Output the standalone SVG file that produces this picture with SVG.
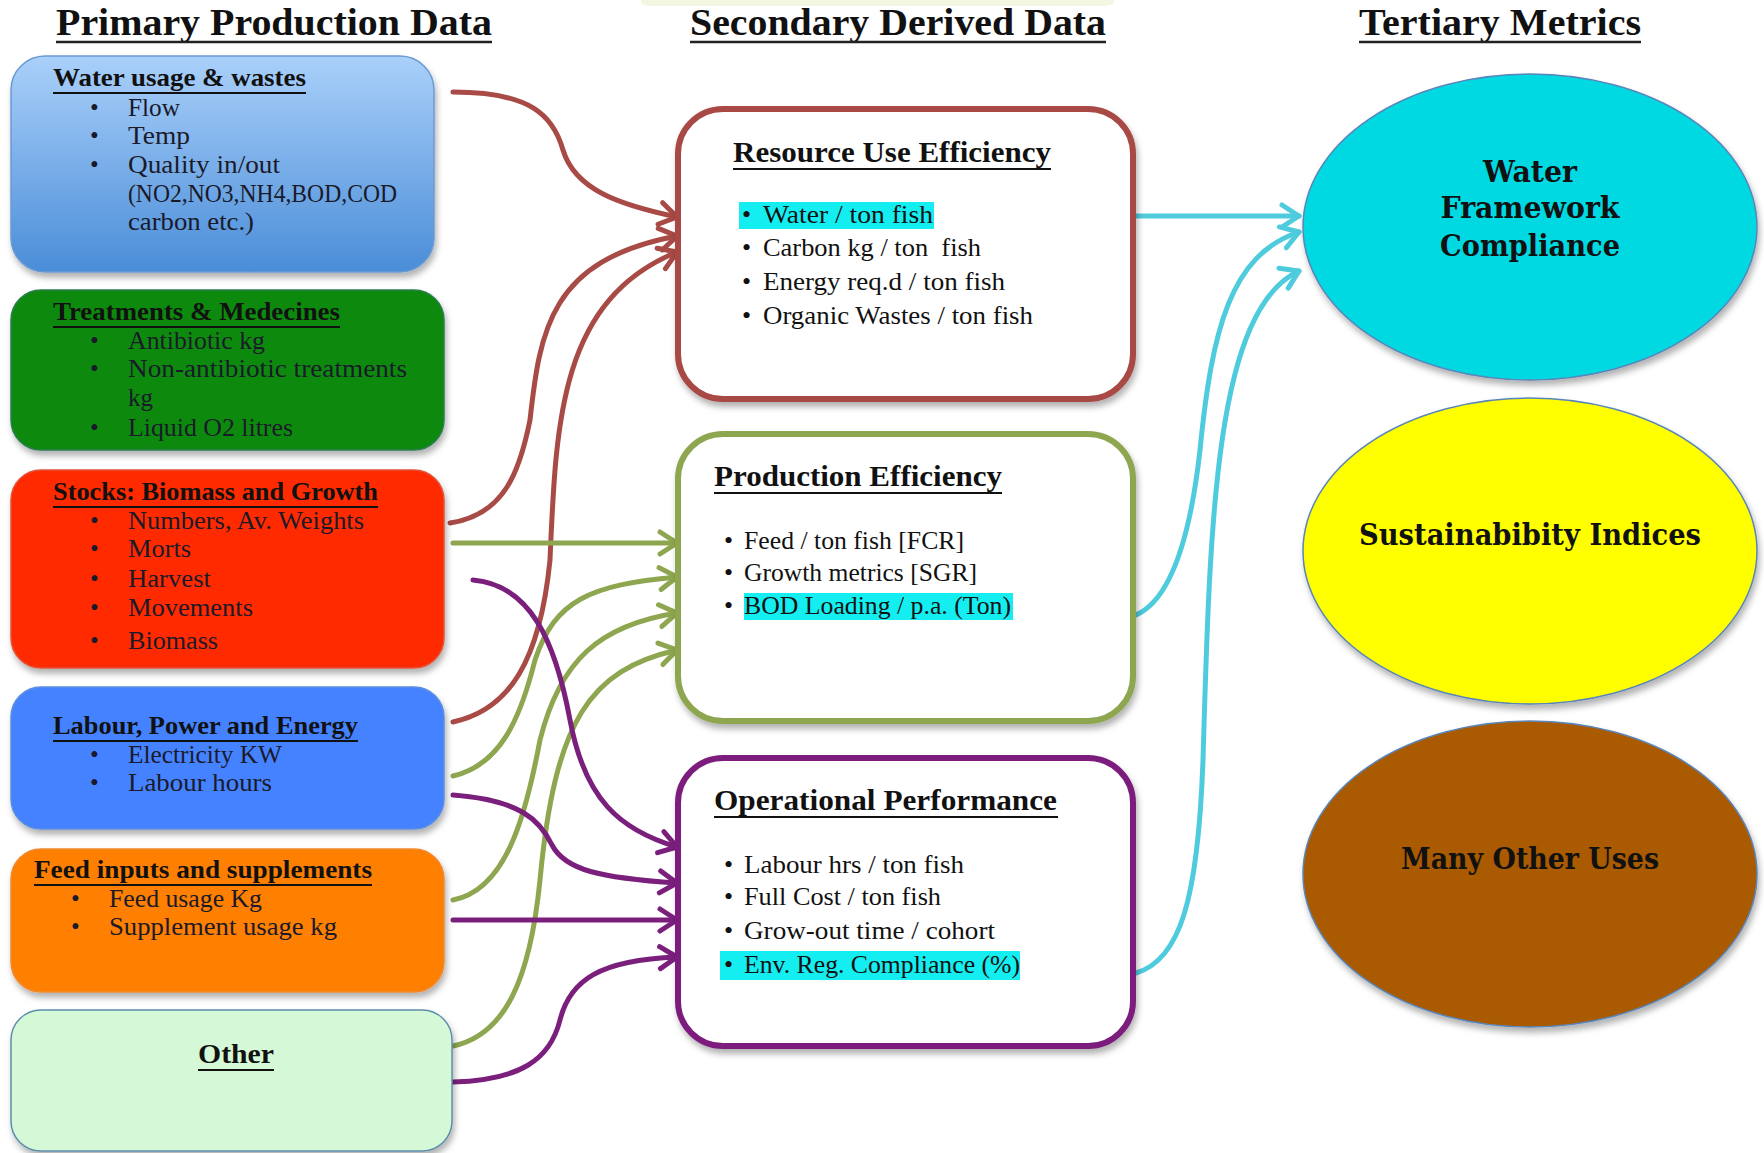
<svg xmlns="http://www.w3.org/2000/svg" width="1764" height="1153" viewBox="0 0 1764 1153">
  <defs>
    <style>
      .title { font-family: "Liberation Serif", serif; font-weight: bold; font-size: 37px; fill: #111; }
      .lh { font-family: "Liberation Serif", serif; font-weight: bold; font-size: 25px; fill: #111; }
      .lb { font-family: "Liberation Serif", serif; font-size: 25px; fill: #1a1a2a; }
      .mh { font-family: "Liberation Serif", serif; font-weight: bold; font-size: 30px; fill: #111; }
      .mb { font-family: "Liberation Serif", serif; font-size: 26px; fill: #111; }
      .eh { font-family: "DejaVu Serif", "Liberation Serif", serif; font-weight: bold; font-size: 29px; fill: #111; text-anchor: middle; }
      .ul { stroke: #111; stroke-width: 2.2; }
      .ult { stroke: #222; stroke-width: 2.6; }
      .mbox { fill: #fff; stroke-width: 6; filter: url(#shadow); }
      .lbox { filter: url(#shadow); stroke-width: 1.5; }
      .ell { stroke: #5a85b8; stroke-width: 1.5; filter: url(#shadow); }
      .hl { fill: #14eef0; }
      .conn { fill: none; stroke-width: 5; stroke-linecap: round; }
      .red { stroke: #a84a45; marker-end: url(#ah-red); }
      .grn { stroke: #8ea64f; marker-end: url(#ah-grn); }
      .pur { stroke: #7b1f7d; marker-end: url(#ah-pur); }
      .cyn { stroke: #4ecbdd; marker-end: url(#ah-cyn); }
    </style>
    <filter id="shadow" x="-10%" y="-10%" width="125%" height="130%">
      <feDropShadow dx="2" dy="5" stdDeviation="3" flood-color="#000" flood-opacity="0.3"/>
    </filter>
    <linearGradient id="gWater" x1="0" y1="0" x2="0" y2="1">
      <stop offset="0" stop-color="#aad0fa"/>
      <stop offset="1" stop-color="#4a8dd8"/>
    </linearGradient>
    <marker id="ah-red" markerUnits="userSpaceOnUse" viewBox="-22 -15 26 30" refX="0" refY="0" markerWidth="26" markerHeight="30" orient="auto">
      <path d="M-17,-11 L0,0 L-17,11" fill="none" stroke="#a84a45" stroke-width="5" stroke-linecap="round" stroke-linejoin="round"/>
    </marker>
    <marker id="ah-grn" markerUnits="userSpaceOnUse" viewBox="-22 -15 26 30" refX="0" refY="0" markerWidth="26" markerHeight="30" orient="auto">
      <path d="M-17,-11 L0,0 L-17,11" fill="none" stroke="#8ea64f" stroke-width="5" stroke-linecap="round" stroke-linejoin="round"/>
    </marker>
    <marker id="ah-pur" markerUnits="userSpaceOnUse" viewBox="-22 -15 26 30" refX="0" refY="0" markerWidth="26" markerHeight="30" orient="auto">
      <path d="M-17,-11 L0,0 L-17,11" fill="none" stroke="#7b1f7d" stroke-width="5" stroke-linecap="round" stroke-linejoin="round"/>
    </marker>
    <marker id="ah-cyn" markerUnits="userSpaceOnUse" viewBox="-22 -15 26 30" refX="0" refY="0" markerWidth="26" markerHeight="30" orient="auto">
      <path d="M-17,-11 L0,0 L-17,11" fill="none" stroke="#4ecbdd" stroke-width="5" stroke-linecap="round" stroke-linejoin="round"/>
    </marker>
  </defs>

  <rect width="1764" height="1153" fill="#fff"/>
  <path d="M641,0 L1114,0 L1114,2 Q1114,6 1100,6 L655,6 Q641,6 641,2 Z" fill="#f3f6e0"/>

  <!-- column titles -->
  <g id="titles">
    <text class="title" x="56" y="35" textLength="436" lengthAdjust="spacingAndGlyphs">Primary Production Data</text>
    <line class="ult" x1="56" y1="42" x2="492" y2="42"/>
    <text class="title" x="690" y="35" textLength="416" lengthAdjust="spacingAndGlyphs">Secondary Derived Data</text>
    <line class="ult" x1="690" y1="42" x2="1106" y2="42"/>
    <text class="title" x="1359" y="35" textLength="282" lengthAdjust="spacingAndGlyphs">Tertiary Metrics</text>
    <line class="ult" x1="1359" y1="42" x2="1641" y2="42"/>
  </g>

  <!-- connectors -->
  <g id="connectors">
    <path class="conn red" d="M453,92 C530,92 553,115 563,150 C575,190 620,205 677,217"/>
    <path class="conn red" d="M450,523 C505,515 520,470 530,420 C540,330 550,260 677,236"/>
    <path class="conn red" d="M453,722 C510,710 540,660 550,560 C556,420 560,300 677,252"/>

    <path class="conn grn" d="M453,543 L677,543"/>
    <path class="conn grn" d="M453,776 C500,765 520,720 535,660 C555,600 590,585 677,577"/>
    <path class="conn grn" d="M453,900 C505,890 525,820 540,740 C560,660 600,625 677,613"/>
    <path class="conn grn" d="M453,1046 C505,1035 530,980 540,880 C555,720 590,670 677,650"/>

    <path class="conn pur" d="M473,580 C530,585 555,640 570,720 C585,800 620,830 677,847"/>
    <path class="conn pur" d="M453,795 C520,800 540,820 552,845 C565,870 600,878 677,883"/>
    <path class="conn pur" d="M453,920 L677,920"/>
    <path class="conn pur" d="M453,1082 C520,1080 550,1060 560,1020 C570,980 600,960 677,957"/>

    <path class="conn cyn" d="M1136,216 L1299,216"/>
    <path class="conn cyn" d="M1136,615 C1170,600 1190,540 1200,450 C1212,330 1230,255 1299,232"/>
    <path class="conn cyn" d="M1136,973 C1180,960 1198,900 1203,760 C1210,520 1215,310 1299,271"/>
  </g>

  <!-- primary data boxes -->
  <g id="water-usage">
    <rect class="lbox" x="11" y="56" width="423" height="216" rx="34" fill="url(#gWater)" stroke="#6b9bd3"/>
    <text class="lh" x="53" y="86" textLength="253" lengthAdjust="spacingAndGlyphs">Water usage &amp; wastes</text>
    <line class="ul" x1="53" y1="93" x2="306" y2="93"/>
    <text class="lb" x="90" y="116">•</text><text class="lb" x="128" y="116" textLength="52" lengthAdjust="spacingAndGlyphs">Flow</text>
    <text class="lb" x="90" y="144">•</text><text class="lb" x="128" y="144" textLength="62" lengthAdjust="spacingAndGlyphs">Temp</text>
    <text class="lb" x="90" y="173">•</text><text class="lb" x="128" y="173" textLength="152" lengthAdjust="spacingAndGlyphs">Quality in/out</text>
    <text class="lb" x="128" y="202" textLength="269" lengthAdjust="spacingAndGlyphs">(NO2,NO3,NH4,BOD,COD</text>
    <text class="lb" x="128" y="230" textLength="126" lengthAdjust="spacingAndGlyphs">carbon etc.)</text>
  </g>

  <g id="treatments">
    <rect class="lbox" x="11" y="290" width="433" height="160" rx="30" fill="#078a0b" stroke="#2f7d52"/>
    <text class="lh" x="53" y="320" textLength="287" lengthAdjust="spacingAndGlyphs">Treatments &amp; Medecines</text>
    <line class="ul" x1="53" y1="327" x2="340" y2="327"/>
    <text class="lb" x="90" y="349">•</text><text class="lb" x="128" y="349" textLength="137" lengthAdjust="spacingAndGlyphs">Antibiotic kg</text>
    <text class="lb" x="90" y="377">•</text><text class="lb" x="128" y="377" textLength="279" lengthAdjust="spacingAndGlyphs">Non-antibiotic treatments</text>
    <text class="lb" x="128" y="406">kg</text>
    <text class="lb" x="90" y="436">•</text><text class="lb" x="128" y="436" textLength="165" lengthAdjust="spacingAndGlyphs">Liquid O2 litres</text>
  </g>

  <g id="stocks">
    <rect class="lbox" x="11" y="470" width="433" height="198" rx="30" fill="#ff2b00" stroke="#e2553a"/>
    <text class="lh" x="53" y="500" textLength="325" lengthAdjust="spacingAndGlyphs">Stocks: Biomass and Growth</text>
    <line class="ul" x1="53" y1="507" x2="378" y2="507"/>
    <text class="lb" x="90" y="529">•</text><text class="lb" x="128" y="529" textLength="236" lengthAdjust="spacingAndGlyphs">Numbers, Av. Weights</text>
    <text class="lb" x="90" y="557">•</text><text class="lb" x="128" y="557" textLength="63" lengthAdjust="spacingAndGlyphs">Morts</text>
    <text class="lb" x="90" y="587">•</text><text class="lb" x="128" y="587" textLength="83" lengthAdjust="spacingAndGlyphs">Harvest</text>
    <text class="lb" x="90" y="616">•</text><text class="lb" x="128" y="616" textLength="125" lengthAdjust="spacingAndGlyphs">Movements</text>
    <text class="lb" x="90" y="649">•</text><text class="lb" x="128" y="649" textLength="90" lengthAdjust="spacingAndGlyphs">Biomass</text>
  </g>

  <g id="labour-power">
    <rect class="lbox" x="11" y="687" width="433" height="142" rx="30" fill="#4482ff" stroke="#5b8fe0"/>
    <text class="lh" x="53" y="734" textLength="305" lengthAdjust="spacingAndGlyphs">Labour, Power and Energy</text>
    <line class="ul" x1="53" y1="741" x2="358" y2="741"/>
    <text class="lb" x="90" y="763">•</text><text class="lb" x="128" y="763" textLength="154" lengthAdjust="spacingAndGlyphs">Electricity KW</text>
    <text class="lb" x="90" y="791">•</text><text class="lb" x="128" y="791" textLength="144" lengthAdjust="spacingAndGlyphs">Labour hours</text>
  </g>

  <g id="feed-inputs">
    <rect class="lbox" x="11" y="849" width="433" height="143" rx="30" fill="#ff7f00" stroke="#f08a30"/>
    <text class="lh" x="34" y="878" textLength="338" lengthAdjust="spacingAndGlyphs">Feed inputs and supplements</text>
    <line class="ul" x1="34" y1="885" x2="372" y2="885"/>
    <text class="lb" x="71" y="907">•</text><text class="lb" x="109" y="907" textLength="153" lengthAdjust="spacingAndGlyphs">Feed usage Kg</text>
    <text class="lb" x="71" y="935">•</text><text class="lb" x="109" y="935" textLength="228" lengthAdjust="spacingAndGlyphs">Supplement usage kg</text>
  </g>

  <g id="other">
    <rect class="lbox" x="11" y="1010" width="441" height="141" rx="30" fill="#d5f9d6" stroke="#5d8fab"/>
    <text class="lh" x="198" y="1063" textLength="76" lengthAdjust="spacingAndGlyphs" style="font-size:28px">Other</text>
    <line class="ul" x1="198" y1="1070" x2="274" y2="1070"/>
  </g>

  <!-- secondary derived data boxes -->
  <g id="resource-use">
    <rect class="mbox" x="678" y="109" width="455" height="290" rx="45" stroke="#a84a45"/>
    <text class="mh" x="733" y="162" textLength="318" lengthAdjust="spacingAndGlyphs">Resource Use Efficiency</text>
    <line class="ul" x1="733" y1="169" x2="1051" y2="169"/>
    <rect class="hl" x="739" y="202" width="195" height="27"/>
    <text class="mb" x="742" y="223">•</text><text class="mb" x="763" y="223" textLength="170" lengthAdjust="spacingAndGlyphs">Water / ton fish</text>
    <text class="mb" x="742" y="256">•</text><text class="mb" x="763" y="256" textLength="218" lengthAdjust="spacingAndGlyphs" xml:space="preserve">Carbon kg / ton  fish</text>
    <text class="mb" x="742" y="290">•</text><text class="mb" x="763" y="290" textLength="242" lengthAdjust="spacingAndGlyphs">Energy req.d / ton fish</text>
    <text class="mb" x="742" y="324">•</text><text class="mb" x="763" y="324" textLength="270" lengthAdjust="spacingAndGlyphs">Organic Wastes / ton fish</text>
  </g>

  <g id="production-efficiency">
    <rect class="mbox" x="678" y="434" width="455" height="287" rx="45" stroke="#8ea64f"/>
    <text class="mh" x="714" y="486" textLength="288" lengthAdjust="spacingAndGlyphs">Production Efficiency</text>
    <line class="ul" x1="714" y1="493" x2="1002" y2="493"/>
    <rect class="hl" x="744" y="593" width="269" height="27"/>
    <text class="mb" x="724" y="549">•</text><text class="mb" x="744" y="549" textLength="220" lengthAdjust="spacingAndGlyphs">Feed / ton fish [FCR]</text>
    <text class="mb" x="724" y="581">•</text><text class="mb" x="744" y="581" textLength="233" lengthAdjust="spacingAndGlyphs">Growth metrics [SGR]</text>
    <text class="mb" x="724" y="614">•</text><text class="mb" x="744" y="614" textLength="267" lengthAdjust="spacingAndGlyphs">BOD Loading / p.a. (Ton)</text>
  </g>

  <g id="operational-performance">
    <rect class="mbox" x="678" y="758" width="455" height="288" rx="45" stroke="#7b1f7d"/>
    <text class="mh" x="714" y="810" textLength="343" lengthAdjust="spacingAndGlyphs">Operational Performance</text>
    <line class="ul" x1="714" y1="817" x2="1058" y2="817"/>
    <rect class="hl" x="720" y="951" width="300" height="29"/>
    <text class="mb" x="724" y="873">•</text><text class="mb" x="744" y="873" textLength="220" lengthAdjust="spacingAndGlyphs">Labour hrs / ton fish</text>
    <text class="mb" x="724" y="905">•</text><text class="mb" x="744" y="905" textLength="197" lengthAdjust="spacingAndGlyphs">Full Cost / ton fish</text>
    <text class="mb" x="724" y="939">•</text><text class="mb" x="744" y="939" textLength="251" lengthAdjust="spacingAndGlyphs">Grow-out time / cohort</text>
    <text class="mb" x="724" y="973">•</text><text class="mb" x="744" y="973" textLength="276" lengthAdjust="spacingAndGlyphs">Env. Reg. Compliance (%)</text>
  </g>

  <!-- tertiary metrics -->
  <g id="water-framework">
    <ellipse class="ell" cx="1530" cy="227" rx="227" ry="153" fill="#00d8e2"/>
    <text class="eh" x="1530" y="182" textLength="94" lengthAdjust="spacingAndGlyphs">Water</text>
    <text class="eh" x="1530" y="218" textLength="179" lengthAdjust="spacingAndGlyphs">Framework</text>
    <text class="eh" x="1530" y="256" textLength="180" lengthAdjust="spacingAndGlyphs">Compliance</text>
  </g>

  <g id="sustainability-indices">
    <ellipse class="ell" cx="1530" cy="551" rx="227" ry="153" fill="#ffff00"/>
    <text class="eh" x="1530" y="545" textLength="342" lengthAdjust="spacingAndGlyphs">Sustainabibity Indices</text>
  </g>

  <g id="many-other-uses">
    <ellipse class="ell" cx="1530" cy="874" rx="227" ry="153" fill="#aa5a00"/>
    <text class="eh" x="1530" y="869" textLength="258" lengthAdjust="spacingAndGlyphs">Many Other Uses</text>
  </g>
</svg>
